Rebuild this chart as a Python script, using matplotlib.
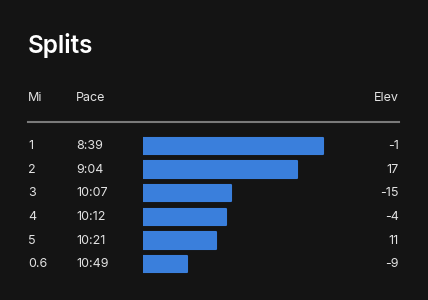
import matplotlib.pyplot as plt
import matplotlib.transforms as mtransforms

# split data
miles = ["1", "2", "3", "4", "5", "0.6"]
paces = ["8:39", "9:04", "10:07", "10:12", "10:21", "10:49"]
elevs = [-1, 17, -15, -4, 11, -9]

# pace in seconds -> bar length (faster = longer)
pace_sec = [int(p.split(":")[0]) * 60 + int(p.split(":")[1]) for p in paces]
base = 691
bar_len = [base - s for s in pace_sec]

bg = "#141414"
blue = "#3a7fdc"
txt = "#e2e2e2"

plt.rcParams["font.family"] = ["Inter", "DejaVu Sans"]

W, H = 428, 300
fig = plt.figure(figsize=(W / 100, H / 100), dpi=100, facecolor=bg)

# bar axes: x from 143px to 399px, rows between 134px and 276px
ax = fig.add_axes([143 / W, 1 - 276 / H, 256 / W, 142 / H])
ax.set_facecolor(bg)
ax.set_xlim(0, 256 / 1.045)
ax.set_ylim(len(miles) - 0.5, -0.5)
ax.axis("off")

ypos = list(range(len(miles)))
ax.barh(ypos, bar_len, height=0.7, color=blue, edgecolor=blue,
        linewidth=1.5, joinstyle="round")

tr = mtransforms.blended_transform_factory(fig.transFigure, ax.transData)
for i in ypos:
    ax.text(28 / W, i, miles[i], transform=tr, color=txt, fontsize=9,
            va="center", ha="left")
    ax.text(76 / W, i, paces[i], transform=tr, color=txt, fontsize=9,
            va="center", ha="left")
    ax.text(399 / W, i, str(elevs[i]), transform=tr, color=txt, fontsize=9,
            va="center", ha="right")

# title and header
fig.text(28 / W, 1 - 45 / H, "Splits", color="white", fontsize=17.5,
         fontweight="semibold", va="center", ha="left")
fig.text(28 / W, 1 - 98 / H, "Mi", color=txt, fontsize=9, va="center")
fig.text(76 / W, 1 - 98 / H, "Pace", color=txt, fontsize=9, va="center")
fig.text(399 / W, 1 - 98 / H, "Elev", color=txt, fontsize=9, va="center",
         ha="right")
fig.add_artist(plt.Line2D([28 / W, 399 / W], [1 - 121.5 / H, 1 - 121.5 / H],
                          transform=fig.transFigure, color="#7a7a7a", lw=1.5))

fig.savefig("out.png", dpi=100, facecolor=bg)
